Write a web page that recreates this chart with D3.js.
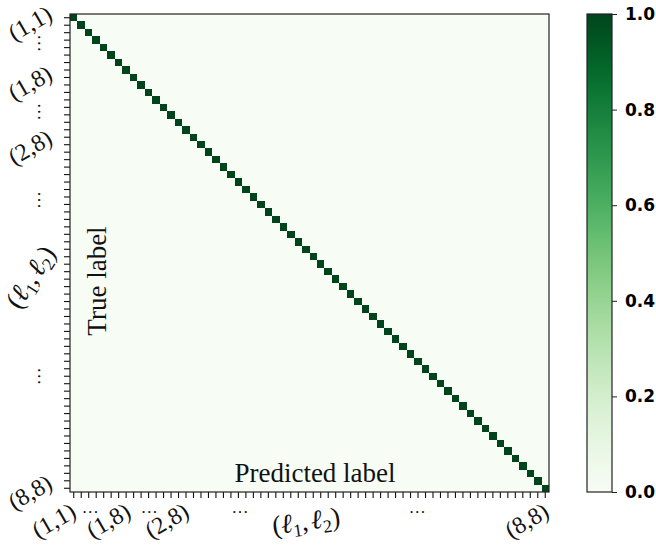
<!DOCTYPE html>
<html>
<head>
<meta charset="utf-8">
<script src="https://cdn.jsdelivr.net/npm/d3@7"></script>
<style>
  html, body { margin: 0; padding: 0; background: #ffffff; }
  svg { display: block; }
</style>
</head>
<body>
<svg id="chart" width="656" height="548"></svg>
<script>
// ---- data ----
const categories = [
  "(1,1)","(1,2)","(1,3)","(1,4)","(1,5)","(1,6)","(1,7)","(1,8)",
  "(2,1)","(2,2)","(2,3)","(2,4)","(2,5)","(2,6)","(2,7)","(2,8)",
  "(3,1)","(3,2)","(3,3)","(3,4)","(3,5)","(3,6)","(3,7)","(3,8)",
  "(4,1)","(4,2)","(4,3)","(4,4)","(4,5)","(4,6)","(4,7)","(4,8)",
  "(5,1)","(5,2)","(5,3)","(5,4)","(5,5)","(5,6)","(5,7)","(5,8)",
  "(6,1)","(6,2)","(6,3)","(6,4)","(6,5)","(6,6)","(6,7)","(6,8)",
  "(7,1)","(7,2)","(7,3)","(7,4)","(7,5)","(7,6)","(7,7)","(7,8)",
  "(8,1)","(8,2)","(8,3)","(8,4)","(8,5)","(8,6)","(8,7)","(8,8)"
];
// normalised confusion values on the diagonal (true == predicted)
const diagonalValues = [
  1,1,1,1,1,1,1,1, 1,1,1,1,1,1,1,1,
  1,1,1,1,1,1,1,1, 1,1,1,1,1,1,1,1,
  1,1,1,1,1,1,1,1, 1,1,1,1,1,1,1,1,
  1,1,1,1,1,1,1,1, 1,1,1,1,1,1,1,1
];
const offDiagonalValue = 0;

// tick labels (position in cell units, text)
const xLabelPos  = [0, 2.2, 7.3, 10.1, 15.1, 22.2, 31.2, 45.9, 63.2];
const xLabelText = ["(1,1)", "…", "(1,8)", "…", "(2,8)", "…", "ELL", "…", "(8,8)"];
const yLabelPos  = [0, 3.4, 8, 12.6, 16.6, 24.4, 34.7, 48, 62.8];
const yLabelText = ["(1,1)", "…", "(1,8)", "…", "(2,8)", "…", "ELL", "…", "(8,8)"];
const colorbarTicks = [0.0, 0.2, 0.4, 0.6, 0.8, 1.0];

// ---- matrix built from the arrays ----
const cells = [];
categories.forEach((t, i) => {
  categories.forEach((p, j) => {
    cells.push({ t: t, p: p, i: i, j: j, v: i === j ? diagonalValues[i] : offDiagonalValue });
  });
});

// ---- layout ----
const svg = d3.select("#chart");
const L = 70, T = 14, R = 549, B = 492;
const serif = "'Liberation Serif', 'Times New Roman', serif";

const x = d3.scaleBand().domain(categories).range([L, R]).padding(0);
const y = d3.scaleBand().domain(categories).range([T, B]).padding(0);
const color = d3.scaleSequential(d3.interpolateGreens).domain([0, 1]);
const xPos = k => L + (k + 0.5) * x.bandwidth();
const yPos = k => T + (k + 0.5) * y.bandwidth();

// cells
svg.append("g")
  .selectAll("rect")
  .data(cells)
  .join("rect")
  .attr("x", d => x(d.p))
  .attr("y", d => y(d.t))
  .attr("width", x.bandwidth() + 0.3)
  .attr("height", y.bandwidth() + 0.3)
  .attr("fill", d => color(d.v))
  .attr("shape-rendering", "crispEdges");

// axes (ticks only)
const xAxis = d3.axisBottom(x).tickSize(6).tickFormat("");
const yAxis = d3.axisLeft(y).tickSize(6).tickFormat("");
const gx = svg.append("g").attr("transform", `translate(0,${B})`).call(xAxis);
const gy = svg.append("g").attr("transform", `translate(${L},0)`).call(yAxis);
[gx, gy].forEach(g => {
  g.select(".domain").remove();
  g.selectAll(".tick line").attr("stroke", "#111").attr("stroke-width", 1.1);
});

// frame
svg.append("rect")
  .attr("x", L).attr("y", T).attr("width", R - L).attr("height", B - T)
  .attr("fill", "none").attr("stroke", "#222").attr("stroke-width", 1.2);

function ellLabel(sel) {
  sel.append("tspan").text("(");
  sel.append("tspan").text("ℓ").attr("font-style", "italic");
  sel.append("tspan").text("1").attr("font-size", 18).attr("dy", 5);
  sel.append("tspan").text(",").attr("dy", -5);
  sel.append("tspan").text("ℓ").attr("font-style", "italic").attr("dx", 3);
  sel.append("tspan").text("2").attr("font-size", 18).attr("dy", 5);
  sel.append("tspan").text(")").attr("dy", -5);
}

// x tick labels
xLabelPos.forEach((k, n) => {
  const txt = xLabelText[n];
  const px = xPos(k);
  if (txt === "…") {
    svg.append("text").attr("x", px).attr("y", 513)
      .attr("text-anchor", "middle").attr("font-family", serif).attr("font-size", 17)
      .attr("fill", "#111").text(txt);
  } else if (txt === "ELL") {
    const t = svg.append("text")
      .attr("transform", `translate(${px},${530}) rotate(-8)`)
      .attr("text-anchor", "middle").attr("font-family", serif).attr("font-size", 27)
      .attr("fill", "#111");
    ellLabel(t);
  } else {
    svg.append("text")
      .attr("transform", `translate(${px + 4},${516}) rotate(-30)`)
      .attr("text-anchor", "end").attr("font-family", serif).attr("font-size", 24)
      .attr("fill", "#111").text(txt);
  }
});

// y tick labels
yLabelPos.forEach((k, n) => {
  const txt = yLabelText[n];
  const py = yPos(k);
  if (txt === "…") {
    svg.append("text")
      .attr("transform", `translate(${39},${py}) rotate(90)`)
      .attr("text-anchor", "middle").attr("dy", "0.05em")
      .attr("font-family", serif).attr("font-size", 18)
      .attr("fill", "#111").text(txt);
  } else if (txt === "ELL") {
    const t = svg.append("text")
      .attr("transform", `translate(${38},${py + 5}) rotate(-57)`)
      .attr("text-anchor", "middle").attr("font-family", serif).attr("font-size", 27)
      .attr("fill", "#111");
    ellLabel(t);
  } else {
    svg.append("text")
      .attr("transform", `translate(${54},${py + 1}) rotate(-30)`)
      .attr("text-anchor", "end").attr("font-family", serif).attr("font-size", 24)
      .attr("fill", "#111").text(txt);
  }
});

// axis titles inside the plot
svg.append("text")
  .attr("x", 315).attr("y", 482)
  .attr("text-anchor", "middle").attr("font-family", serif).attr("font-size", 27)
  .attr("fill", "#111").text("Predicted label");
svg.append("text")
  .attr("transform", `translate(${106},${281}) rotate(-90)`)
  .attr("text-anchor", "middle").attr("font-family", serif).attr("font-size", 27)
  .attr("fill", "#111").text("True label");

// colorbar
const CL = 587, CW = 25;
const cb = d3.scaleLinear().domain([0, 1]).range([B, T]);
const defs = svg.append("defs");
const grad = defs.append("linearGradient").attr("id", "cbgrad")
  .attr("x1", 0).attr("y1", 1).attr("x2", 0).attr("y2", 0);
d3.range(0, 1.0001, 0.02).forEach(s => {
  grad.append("stop").attr("offset", s).attr("stop-color", color(s));
});
svg.append("rect")
  .attr("x", CL).attr("y", T).attr("width", CW).attr("height", B - T)
  .attr("fill", "url(#cbgrad)").attr("stroke", "#222").attr("stroke-width", 1.2);
const cbAxis = d3.axisRight(cb).tickValues(colorbarTicks).tickSize(5).tickPadding(8)
  .tickFormat(d3.format(".1f"));
const gcb = svg.append("g").attr("transform", `translate(${CL + CW},0)`).call(cbAxis);
gcb.select(".domain").remove();
gcb.selectAll(".tick line").attr("stroke", "#222");
gcb.selectAll(".tick text")
  .attr("font-family", "'DejaVu Sans', sans-serif")
  .attr("font-weight", "bold").attr("font-size", 17).attr("fill", "#000");
</script>
</body>
</html>
